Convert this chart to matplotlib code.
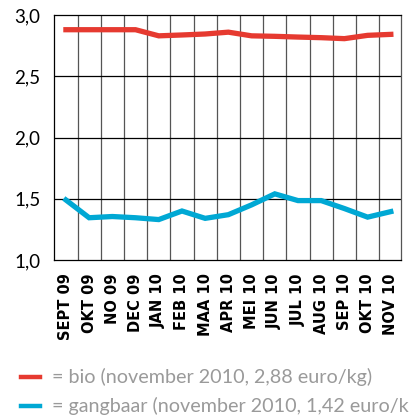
import matplotlib
matplotlib.use('Agg')
import matplotlib.pyplot as plt
from matplotlib.lines import Line2D
from matplotlib.ticker import FuncFormatter, MultipleLocator

# months on the x axis
months = ['SEPT 09', 'OKT 09', 'NO 09', 'DEC 09', 'JAN 10', 'FEB 10', 'MAA 10',
          'APR 10', 'MEI 10', 'JUN 10', 'JUL 10', 'AUG 10', 'SEP 10', 'OKT 10', 'NOV 10']

# prices in euro/kg
bio = [2.88, 2.88, 2.88, 2.88, 2.83, 2.837, 2.845, 2.86, 2.83, 2.826,
       2.82, 2.815, 2.807, 2.834, 2.842]
gangbaar = [1.49, 1.345, 1.355, 1.345, 1.33, 1.40, 1.34, 1.37, 1.45, 1.54,
            1.485, 1.485, 1.42, 1.35, 1.395]

legend_labels = ['= bio (november 2010, 2,88 euro/kg)',
                 '= gangbaar (november 2010, 1,42 euro/kg)']

RED = '#e63a30'
BLUE = '#00a8d4'

fig = plt.figure(figsize=(4.09, 4.17), dpi=100)
ax = fig.add_axes([0.1328, 0.3765, 0.8477, 0.5875])

x = list(range(len(months)))
ax.plot(x, bio, color=RED, lw=3.8, solid_joinstyle='miter', zorder=5)
ax.plot(x, gangbaar, color=BLUE, lw=3.8, solid_joinstyle='miter', zorder=5)

ax.set_xlim(-0.5, 14.44)
ax.set_ylim(1.0, 3.0)

# vertical grid between the months
for k in range(1, 15):
    ax.axvline(k - 0.5, color='#555555', lw=0.9, zorder=1)
for yv in [1.5, 2.0, 2.5]:
    ax.axhline(yv, color='black', lw=0.9, zorder=1)

for s in ax.spines.values():
    s.set_color('black')
    s.set_linewidth(0.9)
ax.spines['right'].set_color('#555555')

ax.yaxis.set_major_locator(MultipleLocator(0.5))
ax.yaxis.set_major_formatter(FuncFormatter(lambda v, p: f'{v:.1f}'.replace('.', ',')))
ax.set_xticks(x)
ax.set_xticklabels(months, rotation=90, fontsize=10.5, fontweight='bold',
                   family='DejaVu Sans', va='top', ha='center')
ax.tick_params(axis='both', length=0)
ax.tick_params(axis='x', pad=9.5)
ax.tick_params(axis='y', pad=10)
for t in ax.get_yticklabels():
    t.set_fontsize(13.5)
    t.set_family('Lato')

# legend at the bottom (second line runs off the edge, as in the original)
for i, (c, lab) in enumerate(zip([RED, BLUE], legend_labels)):
    yf = 1 - (377 + 29 * i) / 417
    fig.add_artist(Line2D([21 / 409, 40 / 409], [yf, yf], color=c, lw=3.2,
                          transform=fig.transFigure))
    fig.text(52 / 409, yf, lab, fontsize=14.2, family='Lato', color='#9a9a9a',
             va='center', ha='left')

fig.savefig('out.png', dpi=100)
